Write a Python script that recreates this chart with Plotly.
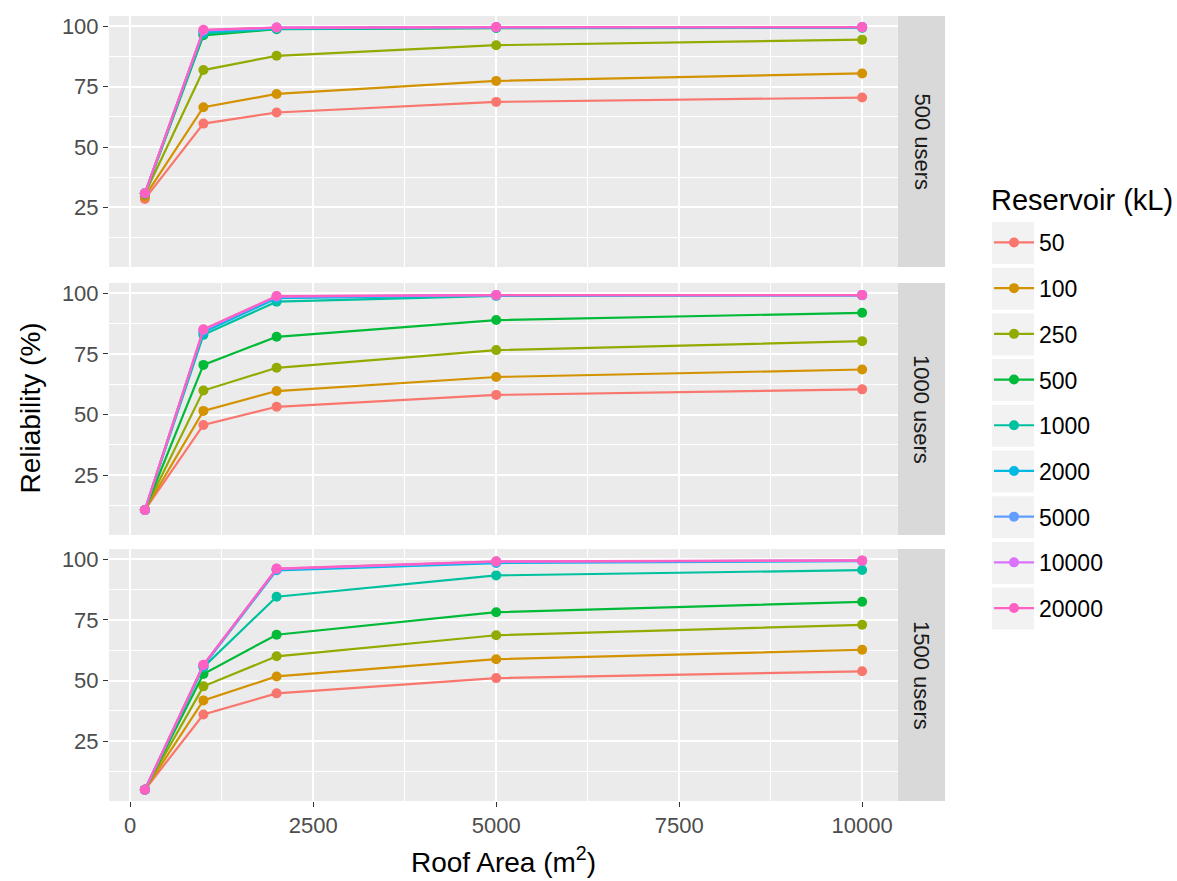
import plotly.graph_objects as go

roof_area = [200, 1000, 2000, 5000, 10000]
x_ticks = [0, 2500, 5000, 7500, 10000]
x_tick_labels = ["0", "2500", "5000", "7500", "10000"]
y_ticks = [25, 50, 75, 100]
reservoirs = ["50", "100", "250", "500", "1000", "2000", "5000", "10000", "20000"]
colors = ["#F8766D", "#D39200", "#93AA00", "#00BA38", "#00C19F",
          "#00B9E3", "#619CFF", "#DB72FB", "#FF61C3"]
panels = ["500 users", "1000 users", "1500 users"]

rel_500 = [
    [28.5, 59.7, 64.3, 68.7, 70.5],
    [29.5, 66.5, 72.0, 77.4, 80.5],
    [30.5, 81.9, 87.8, 92.2, 94.5],
    [30.5, 96.3, 98.8, 99.3, 99.4],
    [30.7, 97.0, 99.0, 99.4, 99.5],
    [30.8, 97.8, 99.2, 99.5, 99.6],
    [30.8, 98.2, 99.4, 99.6, 99.7],
    [30.8, 98.4, 99.5, 99.7, 99.7],
    [30.8, 98.6, 99.5, 99.7, 99.7],
]
rel_1000 = [
    [10.6, 45.7, 53.2, 58.1, 60.4],
    [10.6, 51.5, 59.7, 65.5, 68.6],
    [10.6, 59.9, 69.3, 76.6, 80.3],
    [10.6, 70.5, 82.1, 89.0, 92.0],
    [10.6, 82.9, 96.6, 99.0, 99.2],
    [10.6, 84.0, 98.0, 99.2, 99.3],
    [10.6, 84.8, 98.6, 99.3, 99.3],
    [10.6, 85.0, 98.8, 99.3, 99.3],
    [10.6, 85.2, 98.9, 99.3, 99.3],
]
rel_1500 = [
    [4.9, 36.0, 44.7, 51.0, 53.8],
    [4.9, 41.8, 51.7, 58.8, 62.7],
    [4.9, 47.6, 60.0, 68.7, 73.0],
    [4.9, 52.7, 68.9, 78.2, 82.5],
    [4.9, 55.5, 84.6, 93.4, 95.6],
    [4.9, 56.0, 95.5, 98.5, 99.3],
    [4.9, 56.3, 96.0, 99.0, 99.5],
    [4.9, 56.4, 96.1, 99.1, 99.5],
    [4.9, 56.5, 96.2, 99.2, 99.6],
]
panel_data = [rel_500, rel_1000, rel_1500]

W, H = 1177, 881
FONT = "Liberation Sans, Arial, sans-serif"

def px(x):
    return x / W

def py(y):
    return (H - y) / H

panel_left, panel_right = 109, 898
strip_right = 945
panel_px = [(16, 267), (283, 535), (549, 801)]

fig = go.Figure()
for p, data in enumerate(panel_data):
    suffix = "" if p == 0 else str(p + 1)
    for i, name in enumerate(reservoirs):
        fig.add_trace(go.Scatter(
            x=roof_area, y=data[i], mode="lines+markers", name=name,
            legendgroup=name, showlegend=(p == 0),
            line=dict(color=colors[i], width=2.2),
            marker=dict(color=colors[i], size=10),
            xaxis="x" + suffix, yaxis="y" + suffix,
        ))

layout = dict(
    width=W, height=H,
    margin=dict(l=0, r=0, t=0, b=0, autoexpand=False),
    paper_bgcolor="white", plot_bgcolor="#EBEBEB",
    font=dict(family=FONT, size=22, color="#4D4D4D"),
    legend=dict(
        font=dict(size=23, color="black"),
        x=px(989), xanchor="left", y=py(221), yanchor="top",
        tracegroupgap=12.8, itemwidth=40, bgcolor="rgba(0,0,0,0)",
    ),
    showlegend=True,
)
shapes = []
annotations = []
for p, (top, bot) in enumerate(panel_px):
    suffix = "" if p == 0 else str(p + 1)
    xa = dict(
        domain=[px(panel_left), px(panel_right)], range=[-290, 10490],
        tickvals=x_ticks, ticktext=x_tick_labels,
        showgrid=True, gridcolor="white", gridwidth=1.6, zeroline=False,
        minor=dict(tickvals=[1250, 3750, 6250, 8750], showgrid=True,
                   gridcolor="white", gridwidth=0.7),
        anchor="y" + suffix, showline=False, automargin=False,
    )
    if p < 2:
        xa.update(showticklabels=False, ticks="")
        xa["matches"] = "x3"
    else:
        xa.update(ticks="outside", ticklen=5, tickwidth=1.3, tickcolor="#333333",
                  tickfont=dict(size=22, color="#4D4D4D"),
                  title=dict(text="Roof Area (m<sup>2</sup>)",
                             font=dict(size=28, color="black"), standoff=14))
    ya = dict(
        domain=[py(bot), py(top)], range=[0.27, 104.3],
        tickvals=y_ticks,
        showgrid=True, gridcolor="white", gridwidth=1.6, zeroline=False,
        minor=dict(tickvals=[12.5, 37.5, 62.5, 87.5], showgrid=True,
                   gridcolor="white", gridwidth=0.7),
        ticks="outside", ticklen=5, tickwidth=1.3, tickcolor="#333333",
        tickfont=dict(size=22, color="#4D4D4D"),
        anchor="x" + suffix, showline=False, automargin=False,
    )
    layout["xaxis" + suffix] = xa
    layout["yaxis" + suffix] = ya
    shapes.append(dict(type="rect", xref="paper", yref="paper",
                       x0=px(panel_right), x1=px(strip_right), y0=py(bot), y1=py(top),
                       fillcolor="#D9D9D9", line=dict(width=0), layer="below"))
    annotations.append(dict(text=panels[p], xref="paper", yref="paper",
                            x=px(922), y=py((top + bot) / 2),
                            textangle=90, showarrow=False,
                            font=dict(size=22, color="#1A1A1A"),
                            xanchor="center", yanchor="middle"))

annotations.append(dict(text="Reliability (%)", xref="paper", yref="paper",
                        x=px(30), y=py((16 + 801) / 2),
                        textangle=-90, showarrow=False,
                        font=dict(size=28, color="black"),
                        xanchor="center", yanchor="middle"))
annotations.append(dict(text="Reservoir (kL)", xref="paper", yref="paper",
                        x=px(989), y=py(200), showarrow=False,
                        font=dict(size=29, color="black"),
                        xanchor="left", yanchor="middle"))

# legend key backgrounds
for k in range(len(reservoirs)):
    y0 = 222 + k * 45.7
    shapes.append(dict(type="rect", xref="paper", yref="paper",
                       x0=px(992), x1=px(1034),
                       y0=py(y0 + 42), y1=py(y0),
                       fillcolor="#F2F2F2", line=dict(width=0), layer="below"))

layout["shapes"] = shapes
layout["annotations"] = annotations
fig.update_layout(**layout)
fig.write_html("out.html", config={"displayModeBar": False},
               post_script="document.body.style.margin='0';document.body.style.overflow='hidden';")
